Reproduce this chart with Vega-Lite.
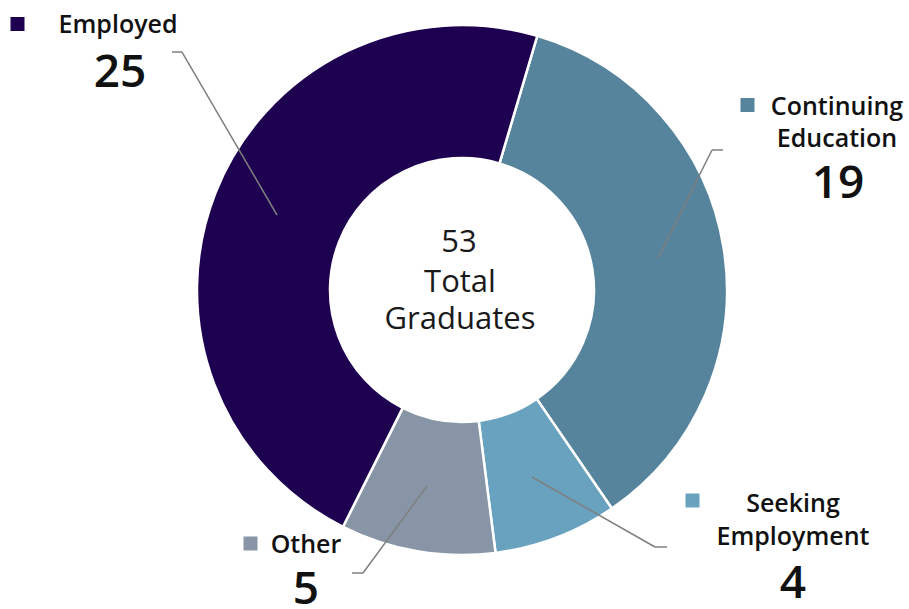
{
  "$schema": "https://vega.github.io/schema/vega-lite/v6.json",
  "width": 894,
  "height": 580,
  "autosize": {"type": "none"},
  "padding": {"left": 15, "top": 0, "right": 0, "bottom": 29},
  "background": "white",
  "config": {"view": {"stroke": null}, "text": {"font": "Open Sans"}},
  "data": {
    "values": [
      {"category": "Continuing Education", "label": "Continuing\nEducation", "count": 19, "rank": 1},
      {"category": "Seeking Employment", "label": "Seeking\nEmployment", "count": 4, "rank": 2},
      {"category": "Other", "label": "Other", "count": 5, "rank": 3},
      {"category": "Employed", "label": "Employed", "count": 25, "rank": 4}
    ]
  },
  "layer": [
    {
      "mark": {"type": "arc", "innerRadius": 132, "outerRadius": 265, "stroke": "white", "strokeWidth": 2.5},
      "encoding": {
        "theta": {"field": "count", "type": "quantitative", "stack": true, "scale": {"range": [0.288, 6.5712]}},
        "order": {"field": "rank", "type": "quantitative"},
        "color": {"field": "category", "type": "nominal", "legend": null,
          "scale": {"domain": ["Employed", "Continuing Education", "Seeking Employment", "Other"], "range": ["#1E0050", "#56849C", "#68A2BE", "#8795A7"]}}
      }
    },
    {
      "transform": [{"aggregate": [{"op": "sum", "field": "count", "as": "total"}]}],
      "layer": [
        {
          "mark": {"type": "text", "fontSize": 31, "align": "center", "baseline": "alphabetic", "color": "#1a1a1a"},
          "encoding": {
            "x": {"datum": -0.0114, "type": "quantitative", "scale": {"domain": [-1.6932, 1.6932], "nice": false, "zero": false}, "axis": null},
            "y": {"datum": 0.1439, "type": "quantitative", "scale": {"domain": [-1.0985, 1.0985], "nice": false, "zero": false}, "axis": null},
            "text": {"field": "total", "type": "quantitative"}
          }
        },
        {
          "mark": {"type": "text", "fontSize": 31, "align": "center", "baseline": "alphabetic", "color": "#1a1a1a", "lineBreak": "\n", "lineHeight": 37, "text": "Total\nGraduates"},
          "encoding": {
            "x": {"datum": -0.0076, "type": "quantitative", "scale": {"domain": [-1.6932, 1.6932], "nice": false, "zero": false}, "axis": null},
            "y": {"datum": -0.0076, "type": "quantitative", "scale": {"domain": [-1.0985, 1.0985], "nice": false, "zero": false}, "axis": null}
          }
        }
      ]
    },
    {
      "transform": [{"filter": "datum.category === 'Employed'"}],
      "layer": [
        {
          "mark": {"type": "text", "fontSize": 25, "fontWeight": 600, "align": "center", "baseline": "alphabetic", "color": "#111111", "lineBreak": "\n", "lineHeight": 32},
          "encoding": {
            "x": {"datum": -1.3030, "type": "quantitative", "scale": {"domain": [-1.6932, 1.6932], "nice": false, "zero": false}, "axis": null},
            "y": {"datum": 0.9735, "type": "quantitative", "scale": {"domain": [-1.0985, 1.0985], "nice": false, "zero": false}, "axis": null},
            "text": {"field": "label", "type": "nominal"}
          }
        },
        {
          "mark": {"type": "text", "fontSize": 46, "fontWeight": 600, "align": "center", "baseline": "alphabetic", "color": "#111111"},
          "encoding": {
            "x": {"datum": -1.2955, "type": "quantitative", "scale": {"domain": [-1.6932, 1.6932], "nice": false, "zero": false}, "axis": null},
            "y": {"datum": 0.7689, "type": "quantitative", "scale": {"domain": [-1.0985, 1.0985], "nice": false, "zero": false}, "axis": null},
            "text": {"field": "count", "type": "quantitative"}
          }
        },
        {
          "mark": {"type": "point", "shape": "square", "filled": true, "size": 196, "opacity": 1},
          "encoding": {
            "x": {"datum": -1.6837, "type": "quantitative", "scale": {"domain": [-1.6932, 1.6932], "nice": false, "zero": false}, "axis": null},
            "y": {"datum": 1.0076, "type": "quantitative", "scale": {"domain": [-1.0985, 1.0985], "nice": false, "zero": false}, "axis": null},
            "color": {"field": "category", "type": "nominal", "legend": null}
          }
        },
        {
          "mark": {"type": "rule", "color": "#7F7F7F", "strokeWidth": 1.5},
          "encoding": {
            "x": {"datum": -1.0985, "type": "quantitative", "scale": {"domain": [-1.6932, 1.6932], "nice": false, "zero": false}, "axis": null},
            "y": {"datum": 0.9015, "type": "quantitative", "scale": {"domain": [-1.0985, 1.0985], "nice": false, "zero": false}, "axis": null},
            "x2": {"datum": -1.0606},
            "y2": {"datum": 0.9015}
          }
        },
        {
          "mark": {"type": "rule", "color": "#7F7F7F", "strokeWidth": 1.5},
          "encoding": {
            "x": {"datum": -1.0606, "type": "quantitative", "scale": {"domain": [-1.6932, 1.6932], "nice": false, "zero": false}, "axis": null},
            "y": {"datum": 0.9015, "type": "quantitative", "scale": {"domain": [-1.0985, 1.0985], "nice": false, "zero": false}, "axis": null},
            "x2": {"datum": -0.7008},
            "y2": {"datum": 0.2841}
          }
        }
      ]
    },
    {
      "transform": [{"filter": "datum.category === 'Continuing Education'"}],
      "layer": [
        {
          "mark": {"type": "text", "fontSize": 25, "fontWeight": 600, "align": "center", "baseline": "alphabetic", "color": "#111111", "lineBreak": "\n", "lineHeight": 32},
          "encoding": {
            "x": {"datum": 1.4205, "type": "quantitative", "scale": {"domain": [-1.6932, 1.6932], "nice": false, "zero": false}, "axis": null},
            "y": {"datum": 0.6629, "type": "quantitative", "scale": {"domain": [-1.0985, 1.0985], "nice": false, "zero": false}, "axis": null},
            "text": {"field": "label", "type": "nominal"}
          }
        },
        {
          "mark": {"type": "text", "fontSize": 46, "fontWeight": 600, "align": "center", "baseline": "alphabetic", "color": "#111111"},
          "encoding": {
            "x": {"datum": 1.4242, "type": "quantitative", "scale": {"domain": [-1.6932, 1.6932], "nice": false, "zero": false}, "axis": null},
            "y": {"datum": 0.3485, "type": "quantitative", "scale": {"domain": [-1.0985, 1.0985], "nice": false, "zero": false}, "axis": null},
            "text": {"field": "count", "type": "quantitative"}
          }
        },
        {
          "mark": {"type": "point", "shape": "square", "filled": true, "size": 196, "opacity": 1},
          "encoding": {
            "x": {"datum": 1.0814, "type": "quantitative", "scale": {"domain": [-1.6932, 1.6932], "nice": false, "zero": false}, "axis": null},
            "y": {"datum": 0.7008, "type": "quantitative", "scale": {"domain": [-1.0985, 1.0985], "nice": false, "zero": false}, "axis": null},
            "color": {"field": "category", "type": "nominal", "legend": null}
          }
        },
        {
          "mark": {"type": "rule", "color": "#7F7F7F", "strokeWidth": 1.5},
          "encoding": {
            "x": {"datum": 0.9886, "type": "quantitative", "scale": {"domain": [-1.6932, 1.6932], "nice": false, "zero": false}, "axis": null},
            "y": {"datum": 0.5303, "type": "quantitative", "scale": {"domain": [-1.0985, 1.0985], "nice": false, "zero": false}, "axis": null},
            "x2": {"datum": 0.9470},
            "y2": {"datum": 0.5303}
          }
        },
        {
          "mark": {"type": "rule", "color": "#7F7F7F", "strokeWidth": 1.5},
          "encoding": {
            "x": {"datum": 0.9470, "type": "quantitative", "scale": {"domain": [-1.6932, 1.6932], "nice": false, "zero": false}, "axis": null},
            "y": {"datum": 0.5303, "type": "quantitative", "scale": {"domain": [-1.0985, 1.0985], "nice": false, "zero": false}, "axis": null},
            "x2": {"datum": 0.7424},
            "y2": {"datum": 0.1212}
          }
        }
      ]
    },
    {
      "transform": [{"filter": "datum.category === 'Seeking Employment'"}],
      "layer": [
        {
          "mark": {"type": "text", "fontSize": 25, "fontWeight": 600, "align": "center", "baseline": "alphabetic", "color": "#111111", "lineBreak": "\n", "lineHeight": 33},
          "encoding": {
            "x": {"datum": 1.2538, "type": "quantitative", "scale": {"domain": [-1.6932, 1.6932], "nice": false, "zero": false}, "axis": null},
            "y": {"datum": -0.8409, "type": "quantitative", "scale": {"domain": [-1.0985, 1.0985], "nice": false, "zero": false}, "axis": null},
            "text": {"field": "label", "type": "nominal"}
          }
        },
        {
          "mark": {"type": "text", "fontSize": 46, "fontWeight": 600, "align": "center", "baseline": "alphabetic", "color": "#111111"},
          "encoding": {
            "x": {"datum": 1.2538, "type": "quantitative", "scale": {"domain": [-1.6932, 1.6932], "nice": false, "zero": false}, "axis": null},
            "y": {"datum": -1.1667, "type": "quantitative", "scale": {"domain": [-1.0985, 1.0985], "nice": false, "zero": false}, "axis": null},
            "text": {"field": "count", "type": "quantitative"}
          }
        },
        {
          "mark": {"type": "point", "shape": "square", "filled": true, "size": 196, "opacity": 1},
          "encoding": {
            "x": {"datum": 0.8731, "type": "quantitative", "scale": {"domain": [-1.6932, 1.6932], "nice": false, "zero": false}, "axis": null},
            "y": {"datum": -0.7973, "type": "quantitative", "scale": {"domain": [-1.0985, 1.0985], "nice": false, "zero": false}, "axis": null},
            "color": {"field": "category", "type": "nominal", "legend": null}
          }
        },
        {
          "mark": {"type": "rule", "color": "#7F7F7F", "strokeWidth": 1.5},
          "encoding": {
            "x": {"datum": 0.2652, "type": "quantitative", "scale": {"domain": [-1.6932, 1.6932], "nice": false, "zero": false}, "axis": null},
            "y": {"datum": -0.7083, "type": "quantitative", "scale": {"domain": [-1.0985, 1.0985], "nice": false, "zero": false}, "axis": null},
            "x2": {"datum": 0.7311},
            "y2": {"datum": -0.9735}
          }
        },
        {
          "mark": {"type": "rule", "color": "#7F7F7F", "strokeWidth": 1.5},
          "encoding": {
            "x": {"datum": 0.7311, "type": "quantitative", "scale": {"domain": [-1.6932, 1.6932], "nice": false, "zero": false}, "axis": null},
            "y": {"datum": -0.9735, "type": "quantitative", "scale": {"domain": [-1.0985, 1.0985], "nice": false, "zero": false}, "axis": null},
            "x2": {"datum": 0.7765},
            "y2": {"datum": -0.9735}
          }
        }
      ]
    },
    {
      "transform": [{"filter": "datum.category === 'Other'"}],
      "layer": [
        {
          "mark": {"type": "text", "fontSize": 25, "fontWeight": 600, "align": "center", "baseline": "alphabetic", "color": "#111111", "lineBreak": "\n", "lineHeight": 32},
          "encoding": {
            "x": {"datum": -0.5909, "type": "quantitative", "scale": {"domain": [-1.6932, 1.6932], "nice": false, "zero": false}, "axis": null},
            "y": {"datum": -0.9962, "type": "quantitative", "scale": {"domain": [-1.0985, 1.0985], "nice": false, "zero": false}, "axis": null},
            "text": {"field": "label", "type": "nominal"}
          }
        },
        {
          "mark": {"type": "text", "fontSize": 46, "fontWeight": 600, "align": "center", "baseline": "alphabetic", "color": "#111111"},
          "encoding": {
            "x": {"datum": -0.5909, "type": "quantitative", "scale": {"domain": [-1.6932, 1.6932], "nice": false, "zero": false}, "axis": null},
            "y": {"datum": -1.1894, "type": "quantitative", "scale": {"domain": [-1.0985, 1.0985], "nice": false, "zero": false}, "axis": null},
            "text": {"field": "count", "type": "quantitative"}
          }
        },
        {
          "mark": {"type": "point", "shape": "square", "filled": true, "size": 196, "opacity": 1},
          "encoding": {
            "x": {"datum": -0.8011, "type": "quantitative", "scale": {"domain": [-1.6932, 1.6932], "nice": false, "zero": false}, "axis": null},
            "y": {"datum": -0.9602, "type": "quantitative", "scale": {"domain": [-1.0985, 1.0985], "nice": false, "zero": false}, "axis": null},
            "color": {"field": "category", "type": "nominal", "legend": null}
          }
        },
        {
          "mark": {"type": "rule", "color": "#7F7F7F", "strokeWidth": 1.5},
          "encoding": {
            "x": {"datum": -0.1326, "type": "quantitative", "scale": {"domain": [-1.6932, 1.6932], "nice": false, "zero": false}, "axis": null},
            "y": {"datum": -0.7424, "type": "quantitative", "scale": {"domain": [-1.0985, 1.0985], "nice": false, "zero": false}, "axis": null},
            "x2": {"datum": -0.3750},
            "y2": {"datum": -1.0720}
          }
        },
        {
          "mark": {"type": "rule", "color": "#7F7F7F", "strokeWidth": 1.5},
          "encoding": {
            "x": {"datum": -0.3750, "type": "quantitative", "scale": {"domain": [-1.6932, 1.6932], "nice": false, "zero": false}, "axis": null},
            "y": {"datum": -1.0720, "type": "quantitative", "scale": {"domain": [-1.0985, 1.0985], "nice": false, "zero": false}, "axis": null},
            "x2": {"datum": -0.4167},
            "y2": {"datum": -1.0720}
          }
        }
      ]
    }
  ]
}
